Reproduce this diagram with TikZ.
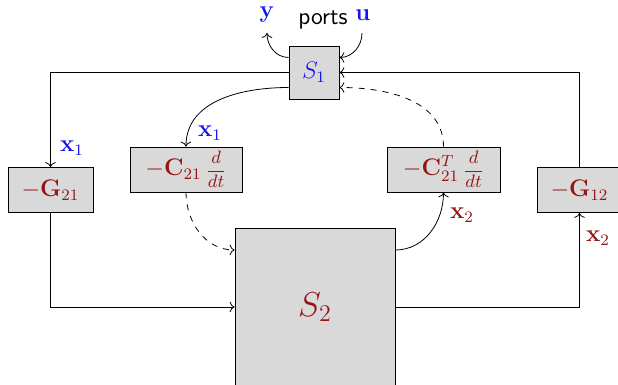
\documentclass[tikz,border=0pt]{standalone}
\usepackage{amsmath,amssymb,bm}
\usepackage{tikz}
\usetikzlibrary{arrows.meta,positioning,calc}
\definecolor{portblue}{RGB}{20,20,240}
\definecolor{deepred}{RGB}{150,20,20}
\definecolor{boxgray}{RGB}{217,217,217}
\newcommand{\ddtfrac}{\mbox{\small$\dfrac{d}{dt}$}}

\begin{document}
\begin{tikzpicture}[
 x=0.5pt,y=0.5pt,
 every node/.style={font=\large},
 sysbox/.style={draw=black,fill=boxgray,inner sep=0pt},
 gainbox/.style={draw=black,fill=boxgray,inner sep=0pt,minimum height=22.5pt,text=deepred},
 arrow/.style={->,>=To},
 dasharrow/.style={->,>=To,dashed}
]
\useasboundingbox (0,0) rectangle (618,385);
% subsystems
\node[sysbox,minimum width=25pt,minimum height=26.5pt,text=portblue] (S1) at (314,312.5) {$S_1$};
\node[sysbox,minimum width=80pt,minimum height=79pt,text=deepred,font=\LARGE] (S2) at (315,78) {$S_2$};
% coupling blocks
\node[gainbox,minimum width=42.5pt] (G21) at (50.5,195) {$-\mathbf{G}_{21}$};
\node[gainbox,minimum width=56pt] (C21) at (186,215.5) {$-\mathbf{C}_{21}\,\ddtfrac$};
\node[gainbox,minimum width=56.5pt] (C12) at (443.5,215.5) {$-\mathbf{C}_{21}^T\,\ddtfrac$};
\node[gainbox,minimum width=42.5pt] (G12) at (579.5,195) {$-\mathbf{G}_{12}$};
% ports
\node (ports) at (323,365) {\sffamily ports};
\node[text=portblue] (yout) at (267,370) {$\mathbf{y}$};
\node[text=portblue] (uin) at (363,370) {$\mathbf{u}$};
\coordinate (yend) at (267,352);
\coordinate (ustart) at (362,352);
\draw[arrow] ($(S1.west)+(0,15)$) to[out=180,in=-90] (yend);
\draw[arrow] (ustart) to[out=-90,in=0] ($(S1.east)+(0,15)$);
% outer loop
\draw[arrow] (S1.west) -| (G21.north);
\draw[arrow] (G12.north) |- (S1.east);
\draw[arrow] (G21.south) |- (S2.west);
\draw[arrow] (S2.east) -| (G12.south);
% inner loop
\draw[arrow] ($(S1.west)+(0,-15)$) to[out=180,in=90] (C21.north);
\draw[dasharrow] (C21.south) to[out=-90,in=180] ($(S2.west)+(0,57)$);
\draw[arrow] ($(S2.east)+(0,57)$) to[out=0,in=-90] (C12.south);
\draw[dasharrow] (C12.north) to[out=90,in=0] ($(S1.east)+(0,-15)$);
% signal labels
\node[text=portblue] (x1a) at (72,237) {$\mathbf{x}_1$};
\node[text=portblue] (x1b) at (210,252) {$\mathbf{x}_1$};
\node[text=deepred] (x2a) at (462,170) {$\mathbf{x}_2$};
\node[text=deepred] (x2b) at (598,147) {$\mathbf{x}_2$};
\end{tikzpicture}
\end{document}
